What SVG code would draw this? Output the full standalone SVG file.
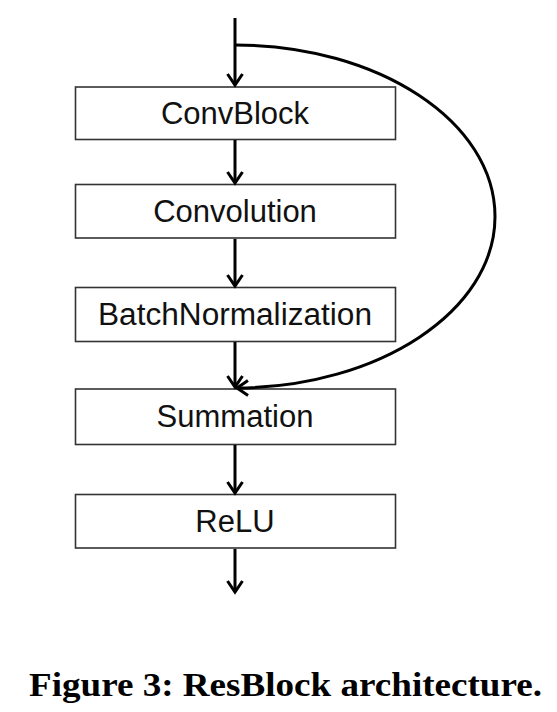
<svg xmlns="http://www.w3.org/2000/svg" width="557" height="712" viewBox="0 0 557 712">
<style>
.box{fill:#fff;stroke:#333;stroke-width:1.6}
.lbl{font-family:"Liberation Sans",Arial,sans-serif;font-size:31px;fill:#111;text-anchor:middle}
.edge{fill:none;stroke:#000;stroke-width:3}
.cap{font-family:"Liberation Serif","Times New Roman",serif;font-weight:bold;font-size:33px;fill:#000}
</style>
<defs>
<marker id="ah" markerUnits="userSpaceOnUse" markerWidth="20" markerHeight="20" viewBox="-14 -10 16 20" refX="0" refY="0" orient="auto" overflow="visible">
<path d="M-11,-7.5 L0,0 L-11,7.5" fill="none" stroke="#000" stroke-width="3" stroke-linejoin="miter"/>
</marker>
</defs>
<rect width="557" height="712" fill="#fff"/>
<g id="convblock"><rect class="box" x="75.5" y="87" width="320" height="52.5"/><text class="lbl" x="235" y="124">ConvBlock</text></g>
<g id="convolution"><rect class="box" x="75.5" y="184.5" width="320" height="53.5"/><text class="lbl" x="235" y="222">Convolution</text></g>
<g id="batchnorm"><rect class="box" x="75.5" y="287.5" width="320" height="54"/><text class="lbl" x="235" y="325" textLength="274" lengthAdjust="spacingAndGlyphs">BatchNormalization</text></g>
<g id="summation"><rect class="box" x="75.5" y="389" width="320" height="55.5"/><text class="lbl" x="235" y="427">Summation</text></g>
<g id="relu"><rect class="box" x="75.5" y="494.5" width="320" height="53.5"/><text class="lbl" x="235" y="532">ReLU</text></g>
<g id="connectors">
<path class="edge" d="M235,18 V85" marker-end="url(#ah)"/>
<path class="edge" d="M235,140 V183" marker-end="url(#ah)"/>
<path class="edge" d="M235,239 V286" marker-end="url(#ah)"/>
<path class="edge" d="M235,342 V387" marker-end="url(#ah)"/>
<path class="edge" d="M235,445 V493" marker-end="url(#ah)"/>
<path class="edge" d="M235,549 V592" marker-end="url(#ah)"/>
<path class="edge" d="M235,45 C378.6,45 495,121.8 495,216.5 C495,311.2 378.6,387 237,388" marker-end="url(#ah)"/>
</g>
<text class="cap" x="29" y="696" textLength="513" lengthAdjust="spacingAndGlyphs">Figure 3: ResBlock architecture.</text>
</svg>
